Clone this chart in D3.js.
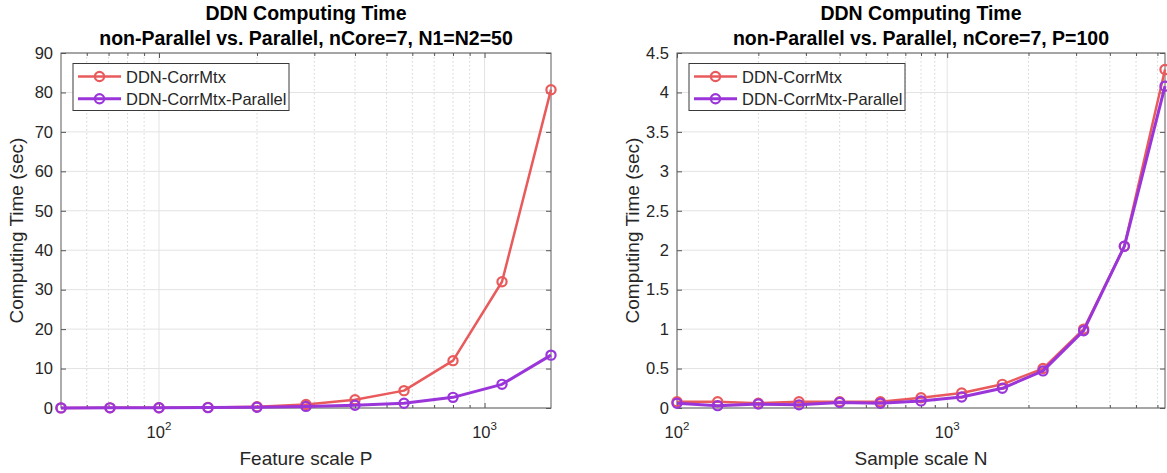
<!DOCTYPE html>
<html>
<head>
<meta charset="utf-8">
<script src="https://cdn.jsdelivr.net/npm/d3@7"></script>
<style>
  html, body { margin: 0; padding: 0; background: #fff; }
  svg { display: block; font-family: "Liberation Sans", Arial, Helvetica, sans-serif; }
</style>
</head>
<body>
<svg id="chart" width="1167" height="473"></svg>
<script>
// ---------------- DATA ----------------
const seriesNames = ["DDN-CorrMtx", "DDN-CorrMtx-Parallel"];

// Left panel: feature scale P
const featureP = [50, 70.7, 100, 141.4, 200, 282.8, 400, 565.7, 800, 1131.4, 1600];
const leftCorrMtx = [0.02, 0.04, 0.08, 0.15, 0.3, 0.9, 2.1, 4.4, 12.0, 32.0, 80.7];
const leftParallel = [0.03, 0.04, 0.06, 0.1, 0.2, 0.4, 0.7, 1.2, 2.7, 6.0, 13.4];
const leftYTicks = [0, 10, 20, 30, 40, 50, 60, 70, 80, 90];
const leftXTicks = [100, 1000];

// Right panel: sample scale N
const sampleN = [100, 141.4, 200, 282.8, 400, 565.7, 800, 1131.4, 1600, 2262.7, 3200, 4525.5, 6400];
const rightCorrMtx = [0.08, 0.08, 0.06, 0.08, 0.08, 0.08, 0.13, 0.19, 0.30, 0.50, 1.00, 2.05, 4.29];
const rightParallel = [0.06, 0.03, 0.05, 0.04, 0.07, 0.06, 0.09, 0.14, 0.25, 0.47, 0.98, 2.05, 4.08];
const rightYTicks = [0, 0.5, 1, 1.5, 2, 2.5, 3, 3.5, 4, 4.5];
const rightXTicks = [100, 1000];

const titleLine1 = "DDN Computing Time";
const leftTitle2 = "non-Parallel vs. Parallel, nCore=7, N1=N2=50";
const rightTitle2 = "non-Parallel vs. Parallel, nCore=7, P=100";
const leftXLabel = "Feature scale P";
const rightXLabel = "Sample scale N";
const yLabel = "Computing Time (sec)";

// ---------------- STYLE ----------------
const colors = ["#E95A5C", "#9A35DA"];
const lineWidths = [2.5, 3];
const svg = d3.select("#chart");

function minorTicks(domain) {
  const out = [];
  const lo = Math.floor(Math.log10(domain[0])), hi = Math.ceil(Math.log10(domain[1]));
  for (let e = lo; e <= hi; e++) {
    for (let m = 2; m <= 9; m++) {
      const v = m * Math.pow(10, e);
      if (v > domain[0] && v < domain[1]) out.push(v);
    }
  }
  return out;
}

function drawPanel(cfg) {
  const { box, xs, ys, xDomain, yDomain, xTicks, yTicks, title2, xLabel } = cfg;
  const g = svg.append("g");
  const x = d3.scaleLog().domain(xDomain).range([box.x0, box.x1]);
  const y = d3.scaleLinear().domain(yDomain).range([box.y1, box.y0]);
  const minors = minorTicks(xDomain);

  // minor grid (dotted, vertical)
  g.append("g").selectAll("line").data(minors).join("line")
    .attr("x1", d => x(d)).attr("x2", d => x(d))
    .attr("y1", box.y0).attr("y2", box.y1)
    .attr("stroke", "#d4d4d4").attr("stroke-width", 1)
    .attr("stroke-dasharray", "1.5,2.5");
  // major grid
  g.append("g").selectAll("line").data(xTicks).join("line")
    .attr("x1", d => x(d)).attr("x2", d => x(d))
    .attr("y1", box.y0).attr("y2", box.y1)
    .attr("stroke", "#e3e3e3").attr("stroke-width", 1);
  g.append("g").selectAll("line").data(yTicks).join("line")
    .attr("x1", box.x0).attr("x2", box.x1)
    .attr("y1", d => y(d)).attr("y2", d => y(d))
    .attr("stroke", "#e3e3e3").attr("stroke-width", 1);

  // axes with inward ticks
  const yAxis = d3.axisLeft(y).tickValues(yTicks).tickSizeInner(-5).tickSizeOuter(0).tickPadding(8)
    .tickFormat(d => String(d));
  const ya = g.append("g").attr("transform", `translate(${box.x0},0)`).call(yAxis);
  ya.select(".domain").remove();
  ya.selectAll("line").attr("stroke", "#555");
  ya.selectAll("text").attr("font-size", 16.5).attr("fill", "#262626")
    .attr("font-family", "'Liberation Sans', Arial, sans-serif");

  const yAxisR = d3.axisRight(y).tickValues(yTicks).tickSizeInner(-5).tickSizeOuter(0).tickFormat("");
  const yr = g.append("g").attr("transform", `translate(${box.x1},0)`).call(yAxisR);
  yr.select(".domain").remove();
  yr.selectAll("line").attr("stroke", "#555");

  const xAxis = d3.axisBottom(x).tickValues(xTicks).tickSizeInner(-5).tickSizeOuter(0).tickFormat("");
  const xa = g.append("g").attr("transform", `translate(0,${box.y1})`).call(xAxis);
  xa.select(".domain").remove();
  xa.selectAll("line").attr("stroke", "#555");
  const xAxisMinor = d3.axisBottom(x).tickValues(minors).tickSizeInner(-3).tickSizeOuter(0).tickFormat("");
  const xam = g.append("g").attr("transform", `translate(0,${box.y1})`).call(xAxisMinor);
  xam.select(".domain").remove();
  xam.selectAll("line").attr("stroke", "#555");
  const xAxisT = d3.axisTop(x).tickValues(xTicks).tickSizeInner(-5).tickSizeOuter(0).tickFormat("");
  const xt = g.append("g").attr("transform", `translate(0,${box.y0})`).call(xAxisT);
  xt.select(".domain").remove();
  xt.selectAll("line").attr("stroke", "#555");
  const xAxisTM = d3.axisTop(x).tickValues(minors).tickSizeInner(-3).tickSizeOuter(0).tickFormat("");
  const xtm = g.append("g").attr("transform", `translate(0,${box.y0})`).call(xAxisTM);
  xtm.select(".domain").remove();
  xtm.selectAll("line").attr("stroke", "#555");

  // x tick labels with superscripts
  const xl = g.append("g").selectAll("text").data(xTicks).join("text")
    .attr("x", d => x(d)).attr("y", box.y1 + 30)
    .attr("text-anchor", "middle").attr("font-size", 16.5).attr("fill", "#262626");
  xl.append("tspan").text("10");
  xl.append("tspan").attr("font-size", 11.5).attr("dy", -8).text(d => String(Math.round(Math.log10(d))));

  // box
  g.append("rect").attr("x", box.x0).attr("y", box.y0)
    .attr("width", box.x1 - box.x0).attr("height", box.y1 - box.y0)
    .attr("fill", "none").attr("stroke", "#5a5a5a").attr("stroke-width", 1);

  // series
  const line = d3.line().x(d => x(d[0])).y(d => y(d[1]));
  ys.forEach((vals, i) => {
    const pts = xs.map((v, j) => [v, vals[j]]);
    g.append("path").datum(pts).attr("d", line)
      .attr("fill", "none").attr("stroke", colors[i]).attr("stroke-width", lineWidths[i])
      .attr("stroke-linejoin", "round");
    g.append("g").selectAll("circle").data(pts).join("circle")
      .attr("cx", d => x(d[0])).attr("cy", d => y(d[1])).attr("r", 4.6)
      .attr("fill", "none").attr("stroke", colors[i]).attr("stroke-width", 2.2);
  });

  // titles
  const cx = (box.x0 + box.x1) / 2;
  g.append("text").attr("x", cx).attr("y", 20).attr("text-anchor", "middle")
    .attr("font-size", 19.5).attr("font-weight", "bold").attr("fill", "#000").text(titleLine1);
  g.append("text").attr("x", cx).attr("y", 45).attr("text-anchor", "middle")
    .attr("font-size", 19.5).attr("font-weight", "bold").attr("fill", "#000").text(title2);

  // axis labels
  g.append("text").attr("x", cx).attr("y", box.y1 + 57).attr("text-anchor", "middle")
    .attr("font-size", 19).attr("fill", "#262626").text(xLabel);
  const ly = (box.y0 + box.y1) / 2;
  g.append("text").attr("transform", `translate(${box.x0 - 38},${ly}) rotate(-90)`)
    .attr("text-anchor", "middle").attr("font-size", 19).attr("fill", "#262626").text(yLabel);

  // legend
  const lg = g.append("g").attr("transform", `translate(${box.x0 + 12},${box.y0 + 10.5})`);
  lg.append("rect").attr("x", 0).attr("y", 0).attr("width", 216).attr("height", 47)
    .attr("fill", "#fff").attr("stroke", "#3a3a3a").attr("stroke-width", 1);
  seriesNames.forEach((name, i) => {
    const yy = 13 + i * 22.3;
    lg.append("line").attr("x1", 5).attr("x2", 48).attr("y1", yy).attr("y2", yy)
      .attr("stroke", colors[i]).attr("stroke-width", lineWidths[i]);
    lg.append("circle").attr("cx", 26.5).attr("cy", yy).attr("r", 4.6)
      .attr("fill", "none").attr("stroke", colors[i]).attr("stroke-width", 2.2);
    lg.append("text").attr("x", 53).attr("y", yy + 6).attr("font-size", 16.5)
      .attr("fill", "#262626").text(name);
  });
}

drawPanel({
  box: { x0: 61, x1: 551, y0: 53, y1: 408 },
  xs: featureP, ys: [leftCorrMtx, leftParallel],
  xDomain: [50, 1600], yDomain: [0, 90],
  xTicks: leftXTicks, yTicks: leftYTicks,
  title2: leftTitle2, xLabel: leftXLabel
});
drawPanel({
  box: { x0: 677, x1: 1165, y0: 53, y1: 408 },
  xs: sampleN, ys: [rightCorrMtx, rightParallel],
  xDomain: [100, 6400], yDomain: [0, 4.5],
  xTicks: rightXTicks, yTicks: rightYTicks,
  title2: rightTitle2, xLabel: rightXLabel
});
</script>
</body>
</html>
